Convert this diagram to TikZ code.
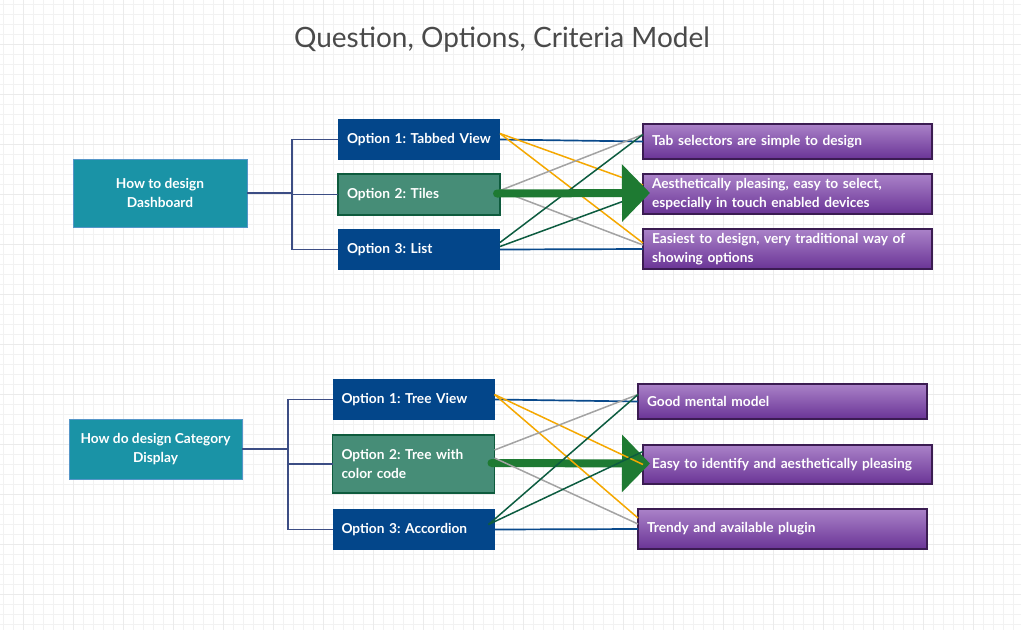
\documentclass[tikz,border=0pt]{standalone}
\usepackage{fontspec}
\setmainfont{Lato}
\frenchspacing
\usepackage{tikz}
\usetikzlibrary{positioning,arrows.meta}

\definecolor{teal}{HTML}{1A93A6}
\definecolor{tealedge}{HTML}{5596C8}
\definecolor{navy}{HTML}{03468A}
\definecolor{optgreen}{HTML}{468D77}
\definecolor{optedge}{HTML}{0E5B3D}
\definecolor{purtop}{HTML}{AA82C8}
\definecolor{purbot}{HTML}{6A3496}
\definecolor{puredge}{HTML}{3B1C52}
\definecolor{treeline}{HTML}{3C4D84}
\definecolor{linknavy}{HTML}{0A4A8C}
\definecolor{linkorange}{HTML}{F5A800}
\definecolor{linkgray}{HTML}{A3A3A3}
\definecolor{linkgreen}{HTML}{0D5C40}
\definecolor{bigarrow}{HTML}{1E7A32}
\definecolor{titlegray}{HTML}{4A4A4A}

\begin{document}
\begin{tikzpicture}[x=1pt,y=-1pt]
        \tikzstyle{every node}=[font=\fontsize{13.7}{19}\selectfont\bfseries, text=white, inner xsep=9pt, inner ysep=0pt, outer sep=0pt]
        \tikzstyle{question}=[fill=teal, draw=tealedge, line width=1pt, align=center]
        \tikzstyle{option}=[fill=navy, align=left, text width=144pt, minimum width=162pt, minimum height=41pt]
        \tikzstyle{pick}=[option, fill=optgreen, draw=optedge, line width=1.5pt]
        \tikzstyle{criterion}=[top color=purtop, bottom color=purbot, draw=puredge, line width=1.5pt, align=left, text width=271pt, minimum width=289pt]
        \tikzstyle{tree}=[draw=treeline, line width=1.7pt]
        \tikzstyle{plain}=[draw=linknavy, line width=1.7pt]
        \tikzstyle{weak}=[draw=linkorange, line width=1.5pt]
        \tikzstyle{fair}=[draw=linkgray, line width=1.5pt]
        \tikzstyle{good}=[draw=linkgreen, line width=1.5pt]
        \tikzstyle{best}=[draw=bigarrow, line width=8pt, line cap=round, shorten >=-7pt, -{Triangle[length=28pt, width=56pt]}]

        \useasboundingbox (0,0) rectangle (1021,630);
        \fill[white] (0,0) rectangle (1021,630);
        \foreach \gx in {3,13,...,1021} \draw[black!5, line width=0.8pt] (\gx,0) -- (\gx,630);
        \foreach \gy in {4,14,...,630} \draw[black!5, line width=0.8pt] (0,\gy) -- (1021,\gy);
        \foreach \gx in {23,73,...,1021} \draw[black!8, line width=0.8pt] (\gx,0) -- (\gx,630);
        \foreach \gy in {44,94,...,630} \draw[black!8, line width=0.8pt] (0,\gy) -- (1021,\gy);

        \node (title) at (502,40) [font=\fontsize{28}{32}\selectfont, text=titlegray] {Question, Options, Criteria Model};

        % dashboard
        \node (tq)  at (160,193)   [question, minimum width=174pt, minimum height=68pt] {How to design\\Dashboard};
        \node (to1) at (419,139.5) [option] {Option 1: Tabbed View};
        \node (to2) at (419,194.5) [pick] {Option 2: Tiles};
        \node (to3) at (419,249.5) [option] {Option 3: List};
        \node (tc1) at (787.5,141.5) [criterion, minimum height=35pt] {Tab selectors are simple to design};
        \node (tc2) at (787.5,194)   [criterion, minimum height=40pt] {Aesthetically pleasing, easy to select,\\especially in touch enabled devices};
        \node (tc3) at (787.5,249)   [criterion, minimum height=40pt] {Easiest to design, very traditional way of\\showing options};

        \draw[tree] (tq.east) -- ++(45,0) |- (to1.west);
        \draw[tree] (tq.east) -- ++(45,0) |- (to2.west);
        \draw[tree] (tq.east) -- ++(45,0) |- (to3.west);

        \draw[plain] (to1.east) -- (tc1.west);
        \draw[plain] (to3.east) -- (tc3.west);
        \draw[weak] ([yshift=6pt]to1.east) -- ([yshift=9pt]tc2.west);
        \draw[weak] ([yshift=6pt]to1.east) -- ([yshift=6pt]tc3.west);
        \draw[fair] ([yshift=4pt]to2.east) -- ([yshift=7pt]tc1.west);
        \draw[fair] ([yshift=4pt]to2.east) -- ([yshift=4pt]tc3.west);
        \draw[good] ([yshift=7pt]to3.east) -- ([yshift=7pt]tc1.west);
        \draw[good] ([yshift=3pt]to3.east) -- (tc2.west);
        \draw[best] ([xshift=-3pt,yshift=1pt]to2.east) -- ([yshift=1pt]tc2.west);

        % category display
        \node (bq)  at (155.5,449) [question, minimum width=173pt, minimum height=60pt] {How do design Category\\Display};
        \node (bo1) at (413.5,399.5) [option] {Option 1: Tree View};
        \node (bo2) at (413.5,464)   [pick, minimum height=58pt] {Option 2: Tree with\\color code};
        \node (bo3) at (413.5,529.5) [option] {Option 3: Accordion};
        \node (bc1) at (782.5,401.5) [criterion, minimum height=35pt] {Good mental model};
        \node (bc2) at (787.5,464.5) [criterion, minimum height=39pt] {Easy to identify and aesthetically pleasing};
        \node (bc3) at (782.5,529)   [criterion, minimum height=40pt] {Trendy and available plugin};

        \draw[tree] (bq.east) -- ++(46,0) |- (bo1.west);
        \draw[tree] (bq.east) -- ++(46,0) |- (bo2.west);
        \draw[tree] (bq.east) -- ++(46,0) |- (bo3.west);

        \draw[plain] (bo1.east) -- (bc1.west);
        \draw[plain] (bo3.east) -- (bc3.west);
        \draw[best] ([xshift=-3pt,yshift=1pt]bo2.east) -- ([yshift=1pt]bc2.west);
        \draw[weak] ([yshift=5pt]bo1.east) -- (bc2.west);
        \draw[weak] ([yshift=5pt]bo1.east) -- ([yshift=11pt]bc3.west);
        \draw[fair] ([yshift=14pt]bo2.east) -- ([yshift=7pt]bc1.west);
        \draw[fair] ([yshift=6pt]bo2.east) -- ([yshift=5pt]bc3.west);
        \draw[good] ([xshift=-6pt,yshift=5pt]bo3.east) -- ([yshift=7pt]bc1.west);
        \draw[good] ([xshift=-6pt,yshift=5pt]bo3.east) -- ([yshift=13pt]bc2.west);
\end{tikzpicture}
\end{document}
